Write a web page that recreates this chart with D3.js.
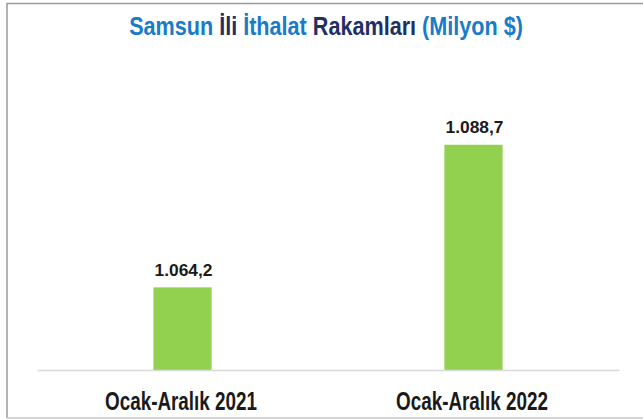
<!DOCTYPE html>
<html><head><meta charset="utf-8">
<script src="https://cdn.jsdelivr.net/npm/d3@7"></script>
<style>html,body{margin:0;padding:0;background:#fff}svg{display:block}text{font-family:"Liberation Sans",Arial,sans-serif;font-weight:bold}</style>
</head><body>
<script>
const categories = ["Ocak-Aralık 2021", "Ocak-Aralık 2022"];
const values = [1064.2, 1088.7];
const valueLabels = ["1.064,2", "1.088,7"];
const titleParts = [
  {t: "Samsun ", c: "#1a7bc9"},
  {t: "İli ", c: "#1f2f66"},
  {t: "İthalat ", c: "#1a7bc9"},
  {t: "Rakamları ", c: "#1f2f66"},
  {t: "(Milyon $)", c: "#1a7bc9"}
];

const W = 643, H = 419;
const svg = d3.select("body").append("svg").attr("width", W).attr("height", H);

// frame
svg.append("path").attr("d", "M643,3.5H7V418").attr("fill", "none").attr("stroke", "#9a9a9a").attr("stroke-width", 1.5);
svg.append("line").attr("x1", 7).attr("x2", 643).attr("y1", 418).attr("y2", 418).attr("stroke", "#c8c8c8").attr("stroke-width", 1.5);

const x = d3.scaleBand().domain(categories).range([37, 619]).padding(0);
const y = d3.scaleLinear().domain([1050, 1100]).range([370, 79]);

function fit(sel, w) {
  sel.each(function() {
    const n = this.getComputedTextLength();
    const cx = +this.getAttribute("data-cx"), cy = +this.getAttribute("data-cy");
    this.setAttribute("x", 0); this.setAttribute("y", 0);
    this.setAttribute("transform", `translate(${cx},${cy}) scale(${w / n},1)`);
  });
}

// bars
svg.selectAll("rect.bar").data(categories).join("rect").attr("class", "bar")
  .attr("x", d => x(d) + x.bandwidth() * 0.4)
  .attr("width", x.bandwidth() * 0.2)
  .attr("y", (d, i) => y(values[i]))
  .attr("height", (d, i) => y.range()[0] - y(values[i]))
  .attr("fill", "#92d050");

// axis
const ax = svg.append("g").attr("transform", "translate(0,370)").call(d3.axisBottom(x).tickSize(0).tickFormat(""));
ax.select(".domain").attr("stroke", "#d9d9d9").attr("stroke-width", 1.5);

// category labels
svg.selectAll("text.cat").data(categories).join("text").attr("class", "cat")
  .attr("data-cx", d => x(d) + x.bandwidth() / 2 - 1.5).attr("data-cy", 410)
  .attr("text-anchor", "middle").attr("font-size", 25).attr("fill", "#1a1a1a")
  .text(d => d).call(fit, 152);

// value labels
svg.selectAll("text.val").data(categories).join("text").attr("class", "val")
  .attr("data-cx", d => x(d) + x.bandwidth() / 2 + 1).attr("data-cy", (d, i) => y(values[i]) - 11.5)
  .attr("text-anchor", "middle").attr("font-size", 17).attr("fill", "#1a1a1a")
  .text((d, i) => valueLabels[i]).call(fit, 58);

// title
const title = svg.append("text").attr("data-cx", 326).attr("data-cy", 34.5)
  .attr("text-anchor", "middle").attr("font-size", 26);
title.selectAll("tspan").data(titleParts).join("tspan").attr("fill", d => d.c).text(d => d.t);
title.call(fit, 394);
</script>
</body></html>
